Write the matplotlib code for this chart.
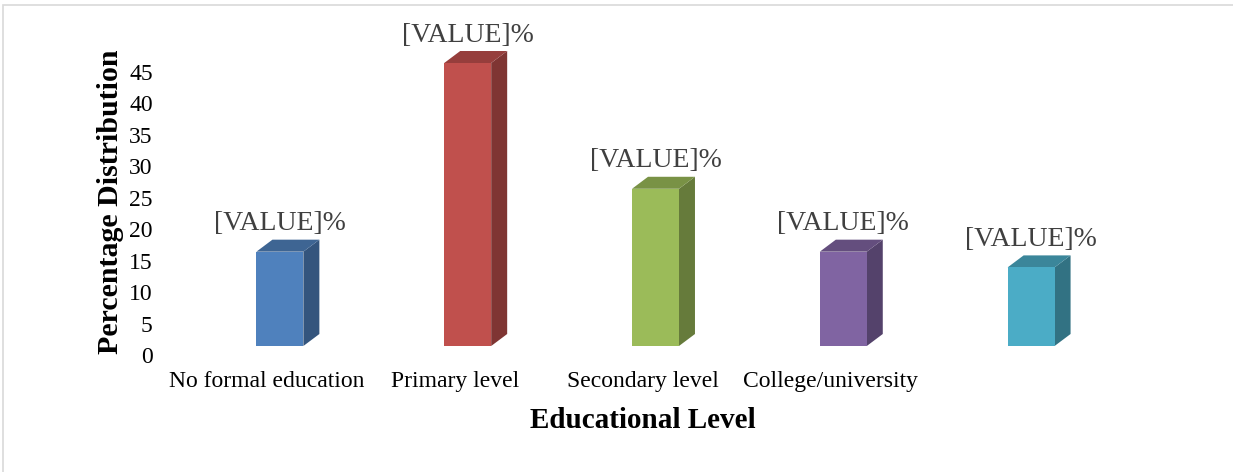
import matplotlib
matplotlib.use("Agg")
import matplotlib.pyplot as plt
from matplotlib.patches import Polygon, Rectangle
from matplotlib.transforms import ScaledTranslation

categories = ["No formal education", "Primary level", "Secondary level",
              "College/university", ""]
values = [15, 45, 25, 15, 12.5]
value_labels = ["[VALUE]%"] * 5
front_colors = ["#4F81BD", "#C0504D", "#9BBB59", "#8064A2", "#4BACC6"]
yticks = [0, 5, 10, 15, 20, 25, 30, 35, 40, 45]

W, H = 1233, 472
DPI = 100

plt.rcParams["font.family"] = ["Liberation Serif", "DejaVu Serif"]

fig = plt.figure(figsize=(W / DPI, H / DPI), dpi=DPI)

# light chart border (runs off right and bottom edges)
fig.patches.append(Rectangle((3 / W, -0.1), 1.2, (H - 5) / H + 0.1,
                             transform=fig.transFigure, fill=False,
                             edgecolor="#d9d9d9", lw=1.2))

ax = fig.add_axes([186 / W, 126 / H, 939 / W, 283 / H])
ax.set_xlim(-0.5, len(values) - 0.5)
ax.set_ylim(0, 45)
for s in ax.spines.values():
    s.set_visible(False)

x = list(range(len(values)))
bw = 0.25
ax.bar(x, values, width=bw, color=front_colors, zorder=3)


def shade(c, f):
    r, g, b = matplotlib.colors.to_rgb(c)
    return (r * f, g * f, b * f)


# depth of the 3D boxes, in pixels turned into data units
px_x = (939 / len(values))
px_y = 283 / 45
dx = 16 / px_x
dy = 12 / px_y

for xi, v, c, lab in zip(x, values, front_colors, value_labels):
    r = xi + bw / 2
    l = xi - bw / 2
    side = Polygon([(r, 0), (r, v), (r + dx, v + dy), (r + dx, dy)],
                   closed=True, facecolor=shade(c, 0.66), edgecolor="none",
                   zorder=2, clip_on=False)
    top = Polygon([(l, v), (r, v), (r + dx, v + dy), (l + dx, v + dy)],
                  closed=True, facecolor=shade(c, 0.78), edgecolor="none",
                  zorder=2, clip_on=False)
    ax.add_patch(side)
    ax.add_patch(top)
    ax.text(xi, v + dy + 16 / px_y, lab, ha="center", va="center",
            fontsize=20, color="#404040", clip_on=False)

ax.set_yticks(yticks)
ax.set_xticks(x)
ax.set_xticklabels(categories)
ax.tick_params(axis="y", length=0, pad=24, labelsize=17)
ax.tick_params(axis="x", length=0, pad=18, labelsize=17)

down = ScaledTranslation(0, -9 / DPI, fig.dpi_scale_trans)
for lbl in ax.get_yticklabels():
    lbl.set_transform(lbl.get_transform() + down)
left = ScaledTranslation(-13 / DPI, 0, fig.dpi_scale_trans)
for lbl in ax.get_xticklabels():
    lbl.set_transform(lbl.get_transform() + left)

fig.text(643 / W, 1 - 421 / H, "Educational Level", ha="center", va="center",
         fontsize=21, fontweight="bold")
fig.text(111 / W, 1 - 202 / H, "Percentage Distribution", ha="center",
         va="center", rotation=90, fontsize=21.5, fontweight="bold")

fig.savefig("out.png", dpi=DPI)
